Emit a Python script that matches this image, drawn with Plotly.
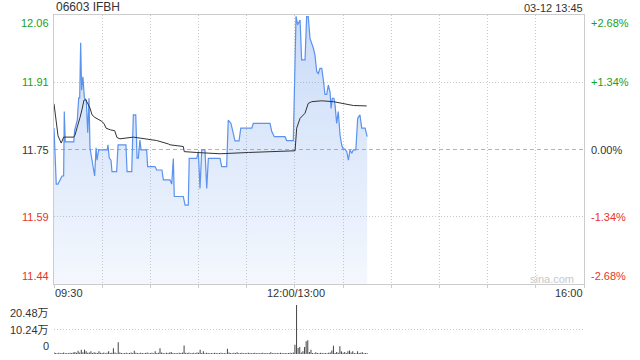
import plotly.graph_objects as go

# ---------------- data ----------------
TITLE = "06603 IFBH"
STAMP = "03-12 13:45"
WATERMARK = "sina.com"
PREV_CLOSE = 11.75
PCT_TICKS = [2.68, 1.34, 0.0, -1.34, -2.68]
PRICE_LABELS = ["12.06", "11.91", "11.75", "11.59", "11.44"]
PCT_LABELS = ["+2.68%", "+1.34%", "0.00%", "-1.34%", "-2.68%"]
TIME_TICKS = [0, 150, 330]
TIME_LABELS = ["09:30", "12:00/13:00", "16:00"]
VOL_TICKS = [0, 10.24, 20.48]
VOL_LABELS = ["0", "10.24万", "20.48万"]

# minutes after 09:30 (lunch break removed) and price
price_min = [0, 1.4, 2.5, 3.7, 5.0, 6.0, 6.4, 7.0, 12.3, 12.9,
             14.5, 14.9, 15.4, 16.0, 16.6, 17.2, 18.0, 18.9, 20.1, 21.0,
             21.8, 22.4, 23.7, 24.5, 25.3, 26.2, 26.8, 27.8, 33.2, 33.6,
             34.4, 35.5, 36.1, 39.0, 39.9, 44.8, 45.5, 48.4, 49.4, 50.9,
             51.7, 52.5, 53.5, 54.2, 57.7, 58.3, 62.9, 63.9, 67.2, 68.1,
             72.2, 73.3, 74.3, 74.9, 80.5, 81.6, 83.6, 84.2, 88.9, 89.9,
             90.9, 92.0, 94.0, 95.1, 96.1, 103.4, 104.4, 107.5, 108.5, 110.2,
             112.7, 115.2, 116.3, 123.1, 124.1, 134.5, 135.6, 137.2, 143.8, 144.9,
             149.0, 150.7, 151.7, 153.2, 154.2, 156.3, 157.3, 158.3, 159.4, 161.5,
             162.5, 163.6, 164.6, 165.6, 166.7, 167.7, 168.7, 169.8, 170.8, 171.9,
             172.5, 173.3, 174.3, 175.0, 176.0, 177.0, 178.1, 179.1, 180.1, 181.2,
             182.3, 183.3, 184.3, 185.4, 186.4, 187.9, 189.1, 190.5, 191.6, 193.7,
             195.0]
price_val = [11.800, 11.669, 11.669, 11.679, 11.688, 11.688, 11.839, 11.768, 11.768, 11.796,
             11.819, 11.843, 11.871, 11.871, 12.000, 11.889, 11.920, 11.871, 11.866, 11.789,
             11.870, 11.754, 11.725, 11.698, 11.688, 11.754, 11.725, 11.749, 11.749, 11.761,
             11.730, 11.725, 11.698, 11.698, 11.761, 11.761, 11.698, 11.698, 11.831, 11.831,
             11.730, 11.730, 11.772, 11.749, 11.749, 11.710, 11.710, 11.702, 11.702, 11.679,
             11.679, 11.669, 11.729, 11.640, 11.640, 11.620, 11.620, 11.729, 11.729, 11.745,
             11.659, 11.749, 11.749, 11.659, 11.729, 11.729, 11.710, 11.710, 11.819, 11.811,
             11.770, 11.770, 11.800, 11.800, 11.811, 11.811, 11.792, 11.780, 11.780, 11.771,
             11.771, 12.062, 12.042, 12.053, 11.960, 11.960, 12.061, 12.061, 12.010, 11.987,
             11.971, 11.932, 11.928, 11.940, 11.940, 11.913, 11.879, 11.879, 11.901, 11.884,
             11.846, 11.870, 11.870, 11.854, 11.811, 11.839, 11.784, 11.761, 11.751, 11.751,
             11.745, 11.725, 11.749, 11.741, 11.749, 11.749, 11.823, 11.831, 11.800, 11.800,
             11.780]

avg_min = [0, 2.5, 4.5, 6.0, 12.3, 13.1, 14.5, 15.4, 16.2, 17.4,
           18.7, 19.9, 21.0, 22.4, 23.7, 25.5, 27.4, 29.3, 31.1, 32.4,
           35.1, 37.8, 39.2, 41.1, 49.4, 57.7, 63.9, 71.2, 72.2, 80.5,
           81.1, 88.9, 103.4, 121.0, 143.8, 150.1, 151.1, 153.2, 156.3, 158.3,
           160.5, 166.7, 173.9, 180.1, 186.4, 194.7]
avg_val = [11.857, 11.782, 11.765, 11.779, 11.779, 11.784, 11.803, 11.819, 11.825, 11.843,
           11.866, 11.866, 11.859, 11.847, 11.831, 11.825, 11.821, 11.817, 11.811, 11.800,
           11.796, 11.794, 11.778, 11.775, 11.779, 11.774, 11.771, 11.763, 11.761, 11.757,
           11.745, 11.743, 11.740, 11.743, 11.745, 11.747, 11.800, 11.823, 11.835, 11.858,
           11.862, 11.864, 11.862, 11.858, 11.853, 11.852]

# volume per minute (万股), minute 0 .. 195
volume = [0.7, 0.4, 0.3, 0.5, 0.3, 0.4, 0.6, 0.3, 0.4, 0.3,
          0.5, 0.4, 0.6, 0.8, 0.5, 1.4, 0.6, 1.8, 0.7, 1.8,
          1.1, 0.5, 0.6, 1.1, 0.4, 0.7, 0.5, 0.4, 1.1, 0.5,
          0.4, 0.6, 0.3, 0.5, 1.1, 0.4, 0.5, 2.4, 0.6, 0.3,
          4.9, 0.6, 0.4, 0.3, 0.4, 0.5, 0.3, 0.4, 0.6, 0.4,
          1.4, 0.5, 0.4, 0.3, 0.5, 0.4, 0.3, 0.4, 0.6, 0.3,
          0.4, 0.5, 0.3, 1.1, 0.4, 0.5, 2.4, 0.6, 0.4, 0.3,
          0.5, 0.4, 0.6, 0.8, 0.4, 0.3, 0.4, 0.3, 0.5, 0.4,
          0.6, 3.6, 0.5, 0.4, 0.6, 0.3, 0.4, 0.5, 0.3, 0.6,
          0.5, 1.8, 0.4, 1.1, 0.3, 0.5, 0.4, 0.3, 0.4, 0.3,
          0.5, 0.4, 0.3, 0.4, 0.5, 0.3, 0.4, 0.3, 2.2, 0.6,
          0.4, 0.3, 0.5, 0.4, 0.7, 0.3, 0.4, 0.5, 0.3, 0.4,
          0.3, 0.5, 0.4, 0.3, 0.4, 0.5, 0.3, 0.4, 0.3, 0.4,
          0.5, 0.3, 0.4, 0.3, 0.4, 0.7, 0.3, 0.4, 0.3, 0.4,
          0.3, 0.5, 0.4, 0.3, 0.4, 0.3, 0.4, 0.5, 0.4, 0.6,
          3.9, 20.6, 2.5, 2.9, 0.6, 1.1, 2.9, 5.3, 5.7, 0.8,
          1.8, 0.4, 0.3, 0.7, 0.4, 0.3, 0.5, 0.4, 0.3, 0.4,
          0.3, 0.5, 0.6, 1.5, 3.5, 0.4, 0.8, 0.5, 3.2, 1.1,
          0.5, 0.8, 0.4, 1.1, 1.5, 0.6, 1.1, 0.4, 0.3, 1.1,
          0.4, 0.5, 0.7, 0.3, 0.4, 0.3]

assert len(price_min) == len(price_val)
assert len(avg_min) == len(avg_val)

# ---------------- layout geometry ----------------
W, H = 640, 360
L, R = 54, 584
P_TOP, P_BOT = 15, 284
V_TOP, V_BOT = 305, 354
SESSION_END = 330

price_ticks = [PREV_CLOSE * (1 + p / 100) for p in PCT_TICKS]
Y_MAX, Y_MIN = price_ticks[0], price_ticks[-1]

FONT = "Liberation Sans, Arial, Noto Sans CJK SC, sans-serif"
GREEN = "#1aa01a"
RED = "#e8332c"
DARK = "#333333"
GRID = "#cbcbcb"
BLUE = "#5a92ee"

fig = go.Figure()

# baseline for area fill (bottom of price axis)
fig.add_trace(go.Scatter(x=[price_min[0], price_min[-1]], y=[Y_MIN, Y_MIN],
                         mode="lines", line=dict(width=0), hoverinfo="skip",
                         showlegend=False, xaxis="x", yaxis="y"))
fig.add_trace(go.Scatter(x=price_min, y=price_val, mode="lines",
                         line=dict(color=BLUE, width=1.2),
                         fill="tonexty",
                         fillgradient=dict(type="vertical",
                                           colorscale=[[0, "rgba(74,134,232,0.06)"],
                                                       [1, "rgba(74,134,232,0.30)"]],
                                           start=Y_MIN, stop=Y_MAX),
                         showlegend=False, xaxis="x", yaxis="y"))
fig.add_trace(go.Scatter(x=avg_min, y=avg_val, mode="lines",
                         line=dict(color="#333333", width=1),
                         showlegend=False, xaxis="x", yaxis="y"))
fig.add_trace(go.Bar(x=list(range(len(volume))), y=volume, width=0.66,
                     marker=dict(color="#4d4d4d", line=dict(width=0)),
                     showlegend=False, xaxis="x2", yaxis="y2"))

dom_x = [L / W, R / W]
fig.update_layout(
    width=W, height=H, margin=dict(l=0, r=0, t=0, b=0),
    paper_bgcolor="white", plot_bgcolor="white", showlegend=False,
    font=dict(family=FONT, size=11, color=DARK),
    xaxis=dict(domain=dom_x, range=[0, SESSION_END], tickvals=list(range(0, SESSION_END + 1, 30)),
               showticklabels=False, showgrid=True, gridcolor=GRID, griddash="1px,2px",
               gridwidth=1, zeroline=False, showline=True, mirror=True,
               linecolor="#cccccc", linewidth=1, ticks="outside", ticklen=3,
               tickcolor="#cccccc", fixedrange=True),
    yaxis=dict(domain=[(H - P_BOT) / H, (H - P_TOP) / H], range=[Y_MIN, Y_MAX],
               tickvals=[t for t in price_ticks if t != PREV_CLOSE],
               showticklabels=False, showgrid=True, gridcolor=GRID, griddash="1px,2px",
               zeroline=False, showline=True, mirror=True, linecolor="#cccccc",
               linewidth=1, ticks="", fixedrange=True),
    xaxis2=dict(domain=dom_x, range=[0, SESSION_END], showticklabels=False, showgrid=False,
                zeroline=False, showline=False, ticks="", anchor="y2", fixedrange=True),
    yaxis2=dict(domain=[(H - V_BOT) / H, (H - V_TOP) / H], range=[VOL_TICKS[0], VOL_TICKS[-1]],
                tickvals=VOL_TICKS, showticklabels=False, showgrid=True, gridcolor=GRID,
                griddash="1px,2px", zeroline=False, showline=False, ticks="",
                anchor="x2", fixedrange=True),
)

# previous close line
fig.add_shape(type="line", xref="x", yref="y", x0=0, x1=SESSION_END,
              y0=PREV_CLOSE, y1=PREV_CLOSE,
              line=dict(color="#b4b4b4", width=1, dash="4px,3px"), layer="below")

ann = []
# price / percent labels
for i, (v, pl, cl) in enumerate(zip(price_ticks, PRICE_LABELS, PCT_LABELS)):
    pct = PCT_TICKS[i]
    col = GREEN if pct > 0 else (RED if pct < 0 else DARK)
    ya = "top" if i == 0 else ("bottom" if i == len(price_ticks) - 1 else "middle")
    ann.append(dict(xref="paper", yref="y", x=51 / W, y=v, text=pl, xanchor="right",
                    yanchor=ya, showarrow=False, font=dict(color=col, size=11)))
    ann.append(dict(xref="paper", yref="y", x=589 / W, y=v, text=cl, xanchor="left",
                    yanchor=ya, showarrow=False, font=dict(color=col, size=11)))
# volume labels
for i, (v, t) in enumerate(zip(VOL_TICKS, VOL_LABELS)):
    ya = "bottom" if i == 0 else ("top" if i == len(VOL_TICKS) - 1 else "middle")
    ann.append(dict(xref="paper", yref="y2", x=51 / W, y=v, text=t, xanchor="right",
                    yanchor=ya, showarrow=False, font=dict(color=DARK, size=11)))
# time labels
for i, (m, t) in enumerate(zip(TIME_TICKS, TIME_LABELS)):
    xa = "left" if i == 0 else ("right" if i == len(TIME_TICKS) - 1 else "center")
    xs = -1 if i == 0 else (1 if i == 1 else 1)
    ann.append(dict(xref="x", yref="paper", x=m, y=(H - 293) / H, text=t, xanchor=xa,
                    yanchor="middle", xshift=xs, showarrow=False,
                    font=dict(color=DARK, size=11)))
# title & stamp
ann.append(dict(xref="paper", yref="paper", x=54 / W, y=(H - 7) / H, text=TITLE,
                xanchor="left", yanchor="middle", showarrow=False,
                font=dict(color=DARK, size=12)))
ann.append(dict(xref="paper", yref="paper", x=585 / W, y=(H - 8) / H, text=STAMP,
                xanchor="right", yanchor="middle", showarrow=False,
                font=dict(color=DARK, size=11)))
ann.append(dict(xref="paper", yref="paper", x=552 / W, y=(H - 279) / H, text=WATERMARK,
                xanchor="center", yanchor="middle", showarrow=False,
                font=dict(color="#c8c8c8", size=11)))
fig.update_layout(annotations=ann)

fig.write_html("out.html", config={"displayModeBar": False, "staticPlot": True})
